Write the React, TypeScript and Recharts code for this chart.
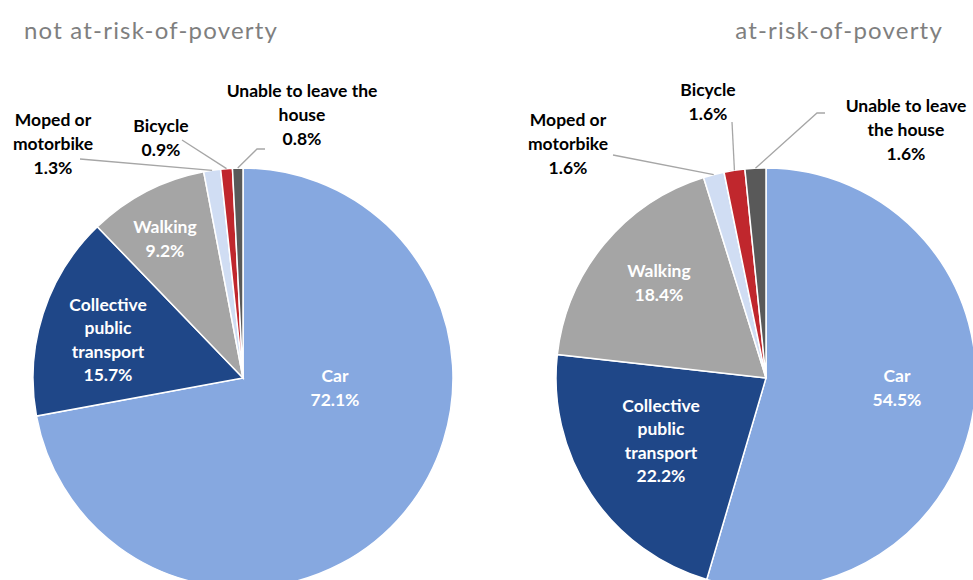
import React from 'react';
import { PieChart, Pie, Cell } from 'recharts';

const categories = [
  'Car',
  'Collective public transport',
  'Walking',
  'Moped or motorbike',
  'Bicycle',
  'Unable to leave the house',
];
const notAtRiskValues = [72.1, 15.7, 9.2, 1.3, 0.9, 0.8];
const atRiskValues = [54.5, 22.2, 18.4, 1.6, 1.6, 1.6];

const leftLabelLines = [
  ['Car'],
  ['Collective', 'public', 'transport'],
  ['Walking'],
  ['Moped or', 'motorbike'],
  ['Bicycle'],
  ['Unable to leave the', 'house'],
];
const rightLabelLines = [
  ['Car'],
  ['Collective', 'public', 'transport'],
  ['Walking'],
  ['Moped or', 'motorbike'],
  ['Bicycle'],
  ['Unable to leave', 'the house'],
];

const sliceColors = ['#86a8e0', '#1f4788', '#a5a5a5', '#d0ddf3', '#c0272d', '#595959'];

// label placement, relative to pie centre
type Place = { dx: number; dy: number; inside?: boolean; lx?: number; ly?: number; ex?: number; ey?: number };

const leftPlaces: Place[] = [
  { dx: 92, dy: 9, inside: true },
  { dx: -135, dy: -39, inside: true },
  { dx: -78, dy: -140, inside: true },
  { dx: -190, dy: -235, lx: -163, ly: -219 },
  { dx: -82, dy: -241, lx: -61, ly: -238 },
  { dx: 59, dy: -264, lx: 22, ly: -229, ex: 14, ey: -229 },
];
const rightPlaces: Place[] = [
  { dx: 131, dy: 9, inside: true },
  { dx: -105, dy: 62, inside: true },
  { dx: -107, dy: -96, inside: true },
  { dx: -198, dy: -235, lx: -153, ly: -223 },
  { dx: -58, dy: -277, lx: -34, ly: -256 },
  { dx: 140, dy: -249, lx: 59, ly: -265, ex: 51, ey: -265 },
];

const RAD = Math.PI / 180;
const LINE_H = 23.6;
const FONT = 'Lato, "Open Sans", sans-serif';

const makeLabel = (lines: string[][], places: Place[]) => (props: any) => {
  const { cx, cy, midAngle, outerRadius, index, value } = props;
  const p = places[index];
  const text = [...lines[index], `${Number(value).toFixed(1)}%`];
  const x = cx + p.dx;
  const y0 = cy + p.dy - ((text.length - 1) * LINE_H) / 2;
  let leader = null;
  if (!p.inside && p.lx !== undefined) {
    const ax = cx + outerRadius * Math.cos(-midAngle * RAD);
    const ay = cy + outerRadius * Math.sin(-midAngle * RAD);
    const pts = [[cx + p.lx, cy + (p.ly ?? 0)]];
    if (p.ex !== undefined) pts.push([cx + p.ex, cy + (p.ey ?? 0)]);
    pts.push([ax, ay]);
    leader = (
      <polyline points={pts.map((q) => q.join(',')).join(' ')} fill="none" stroke="#a6a6a6" strokeWidth={1.3} />
    );
  }
  return (
    <g key={`lbl-${index}`}>
      {leader}
      <text
        x={x}
        y={y0}
        textAnchor="middle"
        dominantBaseline="central"
        fill={p.inside ? '#ffffff' : '#000000'}
        style={{ fontFamily: FONT, fontWeight: 700, fontSize: 17.5 }}
      >
        {text.map((t, i) => (
          <tspan key={i} x={x} y={y0 + i * LINE_H}>
            {t}
          </tspan>
        ))}
      </text>
    </g>
  );
};

const leftData = categories.map((name, i) => ({ name, value: notAtRiskValues[i] }));
const rightData = categories.map((name, i) => ({ name, value: atRiskValues[i] }));

const titleStyle: React.CSSProperties = {
  position: 'absolute',
  top: 14,
  fontFamily: FONT,
  fontWeight: 400,
  fontSize: 24,
  letterSpacing: 1.2,
  color: '#7f7f7f',
  lineHeight: '32px',
  whiteSpace: 'nowrap',
};

export default function App() {
  return (
    <div style={{ position: 'fixed', left: 0, top: 0, width: 973, height: 580, background: '#fff', overflow: 'hidden' }}>
      <div style={{ ...titleStyle, left: 24 }}>not at-risk-of-poverty</div>
      <div style={{ ...titleStyle, right: 30 }}>at-risk-of-poverty</div>
      <PieChart
        width={973}
        height={580}
        margin={{ top: 0, right: 0, bottom: 0, left: 0 }}
        style={{ position: 'absolute', left: 0, top: 0 }}
      >
        <Pie
          data={leftData}
          dataKey="value"
          nameKey="name"
          cx={243}
          cy={378}
          outerRadius={210}
          startAngle={90}
          endAngle={-270}
          stroke="#ffffff"
          strokeWidth={1.5}
          labelLine={false}
          label={makeLabel(leftLabelLines, leftPlaces)}
          isAnimationActive={false}
        >
          {leftData.map((d, i) => (
            <Cell key={d.name} fill={sliceColors[i]} />
          ))}
        </Pie>
        <Pie
          data={rightData}
          dataKey="value"
          nameKey="name"
          cx={766}
          cy={378}
          outerRadius={210}
          startAngle={90}
          endAngle={-270}
          stroke="#ffffff"
          strokeWidth={1.5}
          labelLine={false}
          label={makeLabel(rightLabelLines, rightPlaces)}
          isAnimationActive={false}
        >
          {rightData.map((d, i) => (
            <Cell key={d.name} fill={sliceColors[i]} />
          ))}
        </Pie>
      </PieChart>
    </div>
  );
}
